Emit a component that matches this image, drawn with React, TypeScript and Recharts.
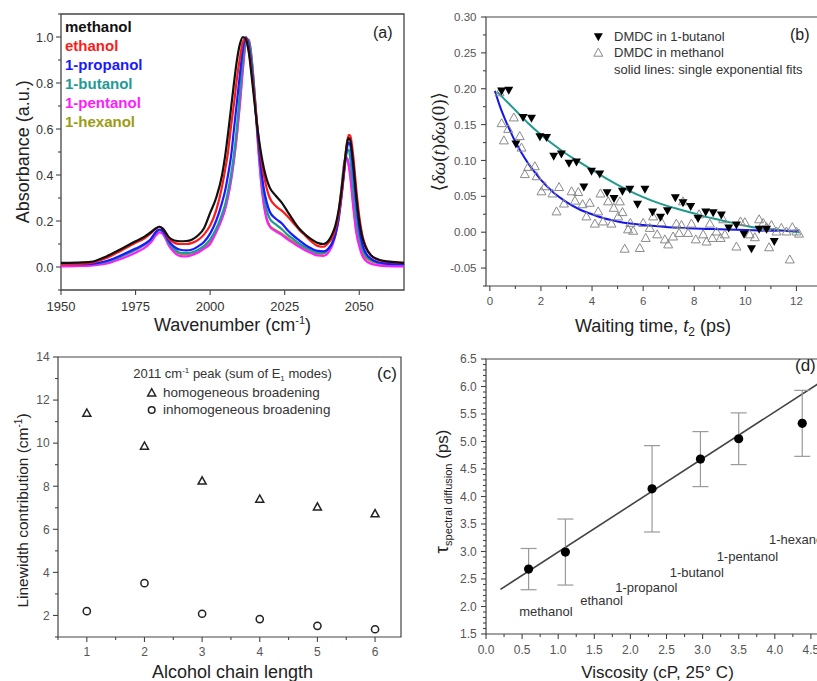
import {
  LineChart,
  Line,
  ComposedChart,
  ScatterChart,
  Scatter,
  XAxis,
  YAxis,
  ReferenceArea,
  ReferenceDot,
  ErrorBar,
} from 'recharts';

const FONT = '"Liberation Sans", Arial, sans-serif';
const SERIF = '"Liberation Serif", "DejaVu Serif", serif';
const AXIS = '#444';
const INK = '#222';

// ---------- (a) FTIR spectra, normalised ----------
const WAVENUMBER = [
  1950, 1955, 1960, 1965, 1970, 1975, 1978, 1980, 1982, 1983, 1984, 1985, 1986, 1988, 1990, 1992, 1994,
  1996, 1998, 2000, 2002, 2004, 2005, 2006, 2007, 2008, 2009, 2010, 2011, 2012, 2013, 2014, 2015, 2016,
  2017, 2018, 2019, 2020, 2022, 2024, 2026, 2028, 2030, 2032, 2034, 2036, 2038, 2040, 2041, 2042, 2043,
  2044, 2045, 2045.5, 2046, 2046.5, 2047, 2048, 2049, 2050, 2051, 2052, 2054, 2056, 2058, 2060, 2065,
];
const ABS_METHANOL = [
  0.018, 0.019, 0.022, 0.045, 0.077, 0.112, 0.132, 0.15, 0.17, 0.175, 0.168, 0.152, 0.132, 0.115, 0.112, 0.113, 0.12,
  0.138, 0.17, 0.235, 0.3, 0.4, 0.48, 0.58, 0.69, 0.8, 0.9, 0.97, 1.0, 0.99, 0.93, 0.82, 0.7, 0.59,
  0.5, 0.43, 0.38, 0.345, 0.31, 0.28, 0.24, 0.2, 0.165, 0.14, 0.12, 0.105, 0.1, 0.12, 0.145, 0.18, 0.24,
  0.33, 0.44, 0.5, 0.545, 0.56, 0.55, 0.45, 0.31, 0.2, 0.13, 0.09, 0.05, 0.035, 0.027, 0.023, 0.018,
];
const ABS_ETHANOL = [
  0.012, 0.013, 0.018, 0.038, 0.07, 0.105, 0.125, 0.145, 0.168, 0.175, 0.168, 0.15, 0.125, 0.105, 0.1, 0.1, 0.105,
  0.118, 0.142, 0.18, 0.245, 0.35, 0.42, 0.5, 0.61, 0.71, 0.82, 0.91, 0.98, 0.995, 0.94, 0.84, 0.72, 0.59,
  0.48, 0.4, 0.34, 0.3, 0.265, 0.245, 0.22, 0.19, 0.16, 0.135, 0.11, 0.092, 0.088, 0.11, 0.13, 0.165, 0.22,
  0.31, 0.43, 0.5, 0.55, 0.575, 0.57, 0.48, 0.34, 0.22, 0.14, 0.095, 0.05, 0.033, 0.025, 0.022, 0.018,
];
const ABS_PROPANOL = [
  0.012, 0.012, 0.014, 0.025, 0.05, 0.08, 0.1, 0.12, 0.155, 0.163, 0.158, 0.14, 0.115, 0.088, 0.075, 0.072, 0.076,
  0.09, 0.11, 0.145, 0.2, 0.28, 0.33, 0.4, 0.48, 0.6, 0.72, 0.84, 0.95, 1.0, 0.96, 0.86, 0.72, 0.57,
  0.44, 0.34, 0.28, 0.24, 0.21, 0.19, 0.16, 0.135, 0.115, 0.095, 0.08, 0.07, 0.068, 0.085, 0.105, 0.14, 0.2,
  0.3, 0.42, 0.48, 0.525, 0.54, 0.53, 0.42, 0.28, 0.17, 0.1, 0.065, 0.035, 0.022, 0.017, 0.014, 0.012,
];
const ABS_BUTANOL = [
  0.012, 0.012, 0.013, 0.022, 0.045, 0.075, 0.097, 0.117, 0.152, 0.16, 0.155, 0.135, 0.108, 0.078, 0.062, 0.06, 0.064,
  0.075, 0.092, 0.12, 0.165, 0.23, 0.27, 0.33, 0.4, 0.49, 0.61, 0.76, 0.9, 0.99, 0.98, 0.89, 0.74, 0.57,
  0.42, 0.31, 0.245, 0.21, 0.185, 0.165, 0.14, 0.12, 0.1, 0.085, 0.072, 0.062, 0.062, 0.085, 0.105, 0.145, 0.21,
  0.31, 0.43, 0.48, 0.505, 0.51, 0.47, 0.34, 0.21, 0.13, 0.08, 0.052, 0.03, 0.02, 0.016, 0.014, 0.012,
];
const ABS_PENTANOL = [
  0.003, 0.004, 0.006, 0.014, 0.035, 0.062, 0.083, 0.105, 0.14, 0.15, 0.145, 0.125, 0.097, 0.063, 0.047, 0.046, 0.052,
  0.063, 0.08, 0.1, 0.15, 0.21, 0.25, 0.305, 0.375, 0.465, 0.575, 0.71, 0.86, 0.975, 0.985, 0.89, 0.73, 0.54,
  0.38, 0.27, 0.205, 0.175, 0.155, 0.14, 0.12, 0.103, 0.087, 0.072, 0.06, 0.05, 0.048, 0.07, 0.095, 0.14, 0.22,
  0.33, 0.45, 0.475, 0.47, 0.44, 0.39, 0.26, 0.15, 0.09, 0.05, 0.03, 0.014, 0.008, 0.005, 0.004, 0.003,
];
const ABS_HEXANOL = [
  0.012, 0.012, 0.013, 0.022, 0.045, 0.075, 0.097, 0.117, 0.152, 0.16, 0.155, 0.133, 0.105, 0.072, 0.057, 0.055, 0.06,
  0.07, 0.087, 0.11, 0.155, 0.215, 0.255, 0.31, 0.38, 0.47, 0.58, 0.72, 0.87, 0.98, 0.99, 0.9, 0.74, 0.55,
  0.39, 0.28, 0.21, 0.18, 0.16, 0.145, 0.125, 0.11, 0.092, 0.078, 0.066, 0.056, 0.058, 0.085, 0.11, 0.155, 0.23,
  0.34, 0.46, 0.48, 0.47, 0.44, 0.4, 0.27, 0.16, 0.1, 0.062, 0.042, 0.025, 0.017, 0.013, 0.012, 0.01,
];
const SOLVENTS = ['methanol', 'ethanol', '1-propanol', '1-butanol', '1-pentanol', '1-hexanol'];
const SOLVENT_COLORS = ['#111111', '#ff1a1a', '#1a1aff', '#1f9a96', '#ff1aff', '#9c9c14'];
const A_X_TICKS = [1950, 1975, 2000, 2025, 2050];

// ---------- (b) frequency-frequency correlation ----------
const BUTANOL_T = [
  0.46, 0.74, 1.02, 1.3, 1.63, 1.96, 2.22, 2.5, 2.8, 3.1, 3.39, 3.68, 3.98, 4.3, 4.59, 4.86, 5.19, 5.48, 5.78,
  6.07, 6.37, 6.68, 6.95, 7.26, 7.56, 7.86, 8.15, 8.45, 8.74, 9.06, 9.35, 9.65, 9.95, 10.24, 10.54, 10.83, 11.13,
];
const BUTANOL_C = [
  0.197, 0.198, 0.123, 0.16, 0.159, 0.133, 0.132, 0.106, 0.109, 0.096, 0.098, 0.063, 0.085, 0.081, 0.055, 0.047,
  0.057, 0.06, 0.039, 0.06, 0.028, 0.021, 0.03, 0.048, 0.041, 0.036, 0.019, 0.028, 0.027, 0.024, 0.006, 0.01,
  -0.003, -0.023, 0.004, 0.004, -0.013,
];
const METHANOL_T = [
  0.38, 0.46, 0.55, 0.72, 0.94, 1.17, 1.24, 1.37, 1.5, 1.76, 1.83, 2.02, 2.15, 2.45, 2.61, 2.71, 2.9, 3.2, 3.33,
  3.46, 3.63, 3.78, 3.91, 4.11, 4.24, 4.33, 4.43, 4.63, 4.76, 4.85, 5.02, 5.09, 5.19, 5.28, 5.41, 5.5, 5.61,
  5.87, 6.0, 6.1, 6.26, 6.39, 6.55, 6.72, 6.85, 6.98, 7.17, 7.3, 7.41, 7.5, 7.56, 7.76, 7.89, 8.06, 8.19, 8.35,
  8.48, 8.61, 8.71, 8.87, 9.03, 9.13, 9.2, 9.65, 9.81, 9.98, 10.17, 10.37, 10.54, 10.7, 10.83, 10.93, 11.02,
  11.22, 11.41, 11.61, 11.74, 11.84, 12.0, 12.1,
];
const METHANOL_C = [
  0.195, 0.152, 0.128, 0.144, 0.16, 0.134, 0.118, 0.081, 0.091, 0.092, 0.078, 0.057, 0.064, 0.054, 0.029, 0.063,
  0.04, 0.057, 0.044, 0.056, 0.039, 0.022, 0.041, 0.012, 0.029, 0.054, 0.015, 0.043, 0.012, 0.034, 0.022, 0.043,
  0.028, -0.023, 0.004, 0.013, 0.002, -0.022, 0.013, -0.008, 0.006, 0.022, -0.003, 0.014, -0.01, -0.017, -0.006,
  0.012, -0.001, 0.01, 0.043, -0.001, 0.012, -0.01, 0.025, -0.003, -0.013, 0.012, -0.008, 0.001, -0.008, 0.018,
  -0.003, -0.02, 0.015, 0.014, -0.003, -0.007, 0.018, 0.013, 0.007, -0.021, 0.01, 0.001, 0.006, 0.001, -0.038,
  0.007, 0.001, -0.002,
];
const FIT_BUTANOL_T = [0.3, 0.5, 1, 1.5, 2, 2.5, 3, 3.5, 4, 4.5, 5, 5.5, 6, 6.5, 7, 7.5, 8, 8.5, 9, 9.5, 10, 10.5, 11, 11.5, 12.1];
const FIT_BUTANOL_C = [
  0.195, 0.188, 0.17, 0.152, 0.136, 0.122, 0.109, 0.098, 0.087, 0.076, 0.066, 0.057, 0.049, 0.042, 0.036, 0.031,
  0.026, 0.021, 0.017, 0.013, 0.009, 0.006, 0.004, 0.002, 0.0,
];
const FIT_METHANOL_T = [0.2, 0.4, 0.6, 0.8, 1, 1.25, 1.5, 1.75, 2, 2.5, 3, 3.5, 4, 4.5, 5, 5.5, 6, 7, 8, 9, 10, 11, 12.1];
const FIT_METHANOL_C = [
  0.197, 0.175, 0.157, 0.141, 0.126, 0.11, 0.096, 0.084, 0.073, 0.055, 0.042, 0.032, 0.025, 0.019, 0.015, 0.012,
  0.01, 0.007, 0.005, 0.004, 0.003, 0.002, 0.002,
];

// ---------- (c) linewidth contributions ----------
const CHAIN_LENGTH = [1, 2, 3, 4, 5, 6];
const HOMOGENEOUS = [11.4, 9.87, 8.25, 7.41, 7.04, 6.73];
const INHOMOGENEOUS = [2.2, 3.5, 2.08, 1.83, 1.52, 1.36];

// ---------- (d) spectral diffusion vs viscosity ----------
const VISCOSITY = [0.59, 1.1, 2.3, 2.97, 3.5, 4.38];
const TAU_SD = [2.68, 2.99, 4.14, 4.68, 5.05, 5.33];
const TAU_ERR = [0.375, 0.6, 0.785, 0.5, 0.47, 0.6];
const FIT_VISC = [0.2, 4.6];
const FIT_TAU = [2.31, 6.05];

const zipXY = (xs: number[], ys: number[]) => xs.map((x, i) => ({ x, y: ys[i] }));

const spectraRows = WAVENUMBER.map((w, i) => {
  const row: Record<string, number> = { w };
  [ABS_METHANOL, ABS_ETHANOL, ABS_PROPANOL, ABS_BUTANOL, ABS_PENTANOL, ABS_HEXANOL].forEach((s, k) => {
    row[SOLVENTS[k]] = s[i];
  });
  return row;
});

const range = (from: number, to: number, step: number) => {
  const n = Math.round((to - from) / step);
  return Array.from({ length: n + 1 }, (_, i) => +(from + i * step).toFixed(4));
};
const onStep = (v: number, step: number) => Math.abs(v / step - Math.round(v / step)) < 1e-6;

type TickOpts = {
  side: 'bottom' | 'left';
  step: number;
  fmt: (v: number) => string;
  size: number;
  gap: number;
  color: string;
};

// draws major/minor tick marks outward and labels the major ones
const tickRenderer = ({ side, step, fmt, size, gap, color }: TickOpts) => (p: any) => {
  const v = p.payload.value;
  const major = onStep(v, step);
  const len = major ? 5 : 3;
  if (side === 'bottom') {
    return (
      <g>
        <line x1={p.x} x2={p.x} y1={p.y} y2={p.y + len} stroke={AXIS} strokeWidth={1.1} />
        {major && (
          <text x={p.x} y={p.y + gap} textAnchor="middle" fontSize={size} fill={color} fontFamily={FONT}>
            {fmt(v)}
          </text>
        )}
      </g>
    );
  }
  return (
    <g>
      <line x1={p.x} x2={p.x - len} y1={p.y} y2={p.y} stroke={AXIS} strokeWidth={1.1} />
      {major && (
        <text x={p.x - gap} y={p.y} dy="0.36em" textAnchor="end" fontSize={size} fill={color} fontFamily={FONT}>
          {fmt(v)}
        </text>
      )}
    </g>
  );
};

const axisBase = {
  type: 'number' as const,
  axisLine: false,
  tickLine: false,
  tickSize: 0,
  tickMargin: 0,
  interval: 0 as const,
  allowDataOverflow: true,
};

const DownTriangle = (p: any) => (
  <polygon
    points={`${p.cx - 4.5},${p.cy - 3.5} ${p.cx + 4.5},${p.cy - 3.5} ${p.cx},${p.cy + 4.5}`}
    fill="#000"
  />
);
const OpenTriangle = (p: any) => (
  <polygon
    points={`${p.cx - 4.5},${p.cy + 3.5} ${p.cx + 4.5},${p.cy + 3.5} ${p.cx},${p.cy - 4.5}`}
    fill="none"
    stroke="#8a8a8a"
    strokeWidth={1}
  />
);
const HollowTriangle = (p: any) => (
  <polygon
    points={`${p.cx - 4},${p.cy + 3.2} ${p.cx + 4},${p.cy + 3.2} ${p.cx},${p.cy - 4}`}
    fill="none"
    stroke={INK}
    strokeWidth={1.5}
  />
);
const HollowCircle = (p: any) => <circle cx={p.cx} cy={p.cy} r={3.6} fill="none" stroke={INK} strokeWidth={1.5} />;
const SolidDot = (p: any) => <circle cx={p.cx} cy={p.cy} r={4.6} fill="#000" />;

function SpectraPanel() {
  const drawOrder = [5, 4, 3, 2, 1, 0];
  return (
    <LineChart width={410} height={340} data={spectraRows} margin={{ top: 14, right: 6, bottom: 20, left: 0 }}>
      <XAxis
        {...axisBase}
        dataKey="w"
        domain={[1950, 2065]}
        ticks={A_X_TICKS}
        height={30}
        tick={tickRenderer({ side: 'bottom', step: 25, fmt: (v) => String(v), size: 13, gap: 20.5, color: '#333' })}
      />
      <YAxis
        {...axisBase}
        domain={[-0.1, 1.1]}
        ticks={range(-0.1, 1.1, 0.1)}
        width={61}
        tick={tickRenderer({ side: 'left', step: 0.2, fmt: (v) => v.toFixed(1), size: 12.5, gap: 7.5, color: '#333' })}
      />
      <ReferenceArea x1={1950} x2={2065} y1={-0.1} y2={1.1} fill="none" stroke={AXIS} strokeWidth={1.3} ifOverflow="visible" />
      {drawOrder.map((k) => (
        <Line
          key={SOLVENTS[k]}
          dataKey={SOLVENTS[k]}
          type="monotone"
          stroke={SOLVENT_COLORS[k]}
          strokeWidth={2.2}
          dot={false}
          isAnimationActive={false}
        />
      ))}
    </LineChart>
  );
}

function CorrelationPanel() {
  return (
    <ComposedChart width={417} height={340} margin={{ top: 17, right: 5, bottom: 24, left: 0 }}>
      <XAxis
        {...axisBase}
        dataKey="x"
        domain={[-0.15, 13]}
        ticks={range(0, 13, 1)}
        height={30}
        tick={tickRenderer({ side: 'bottom', step: 2, fmt: (v) => String(v), size: 11.5, gap: 18.5, color: '#555' })}
      />
      <YAxis
        {...axisBase}
        dataKey="y"
        domain={[-0.075, 0.3]}
        ticks={range(-0.075, 0.3, 0.025)}
        width={76}
        tick={tickRenderer({ side: 'left', step: 0.05, fmt: (v) => v.toFixed(2), size: 11.5, gap: 9.5, color: '#555' })}
      />
      <ReferenceArea x1={-0.15} x2={13} y1={-0.075} y2={0.3} fill="none" stroke={AXIS} strokeWidth={1.2} ifOverflow="visible" />
      <Scatter data={zipXY(METHANOL_T, METHANOL_C)} shape={OpenTriangle} isAnimationActive={false} />
      <Scatter data={zipXY(BUTANOL_T, BUTANOL_C)} shape={DownTriangle} isAnimationActive={false} />
      <Line
        data={zipXY(FIT_BUTANOL_T, FIT_BUTANOL_C)}
        dataKey="y"
        type="monotone"
        stroke="#1f9a8c"
        strokeWidth={2}
        dot={false}
        isAnimationActive={false}
      />
      <Line
        data={zipXY(FIT_METHANOL_T, FIT_METHANOL_C)}
        dataKey="y"
        type="monotone"
        stroke="#1515ee"
        strokeWidth={2}
        dot={false}
        isAnimationActive={false}
      />
    </ComposedChart>
  );
}

function LinewidthPanel() {
  return (
    <ScatterChart width={410} height={341} margin={{ top: 17, right: 9, bottom: 14, left: 0 }}>
      <XAxis
        {...axisBase}
        dataKey="x"
        domain={[0.5, 6.45]}
        ticks={range(0.5, 6, 0.5)}
        height={30}
        tick={tickRenderer({ side: 'bottom', step: 1, fmt: (v) => String(v), size: 12, gap: 19.3, color: '#555' })}
      />
      <YAxis
        {...axisBase}
        dataKey="y"
        domain={[1, 14]}
        ticks={range(1, 14, 1)}
        width={58}
        tick={tickRenderer({ side: 'left', step: 2, fmt: (v) => String(v), size: 12, gap: 8.3, color: '#555' })}
      />
      <ReferenceArea x1={0.5} x2={6.45} y1={1} y2={14} fill="none" stroke={AXIS} strokeWidth={1.2} ifOverflow="visible" />
      <Scatter data={zipXY(CHAIN_LENGTH, HOMOGENEOUS)} shape={HollowTriangle} isAnimationActive={false} />
      <Scatter data={zipXY(CHAIN_LENGTH, INHOMOGENEOUS)} shape={HollowCircle} isAnimationActive={false} />
    </ScatterChart>
  );
}

function ViscosityPanel() {
  const points = VISCOSITY.map((x, i) => ({ x, y: TAU_SD[i], err: TAU_ERR[i] }));
  const nameAt = (name: string, x: number, y: number, anchor: 'middle' | 'start' = 'middle') => (
    <ReferenceDot
      key={name}
      x={x}
      y={y}
      r={0}
      ifOverflow="visible"
      shape={(p: any) => (
        <text x={p.cx} y={p.cy} dy="0.36em" textAnchor={anchor} fontSize={13} fill="#333" fontFamily={FONT}>
          {name}
        </text>
      )}
    />
  );
  return (
    <ComposedChart width={442} height={341} margin={{ top: 19, right: 5, bottom: 17, left: 0 }}>
      <XAxis
        {...axisBase}
        dataKey="x"
        domain={[0, 5]}
        ticks={range(0, 5, 0.25)}
        height={30}
        tick={tickRenderer({ side: 'bottom', step: 0.5, fmt: (v) => v.toFixed(1), size: 12, gap: 19.6, color: '#555' })}
      />
      <YAxis
        {...axisBase}
        dataKey="y"
        domain={[1.5, 6.5]}
        ticks={range(1.5, 6.5, 0.1)}
        width={76}
        tick={tickRenderer({ side: 'left', step: 0.5, fmt: (v) => v.toFixed(1), size: 12, gap: 9.3, color: '#555' })}
      />
      <ReferenceArea x1={0} x2={5} y1={1.5} y2={6.5} fill="none" stroke={AXIS} strokeWidth={1.2} ifOverflow="visible" />
      <Line
        data={zipXY(FIT_VISC, FIT_TAU)}
        dataKey="y"
        type="linear"
        stroke="#444"
        strokeWidth={1.6}
        dot={false}
        isAnimationActive={false}
      />
      <Scatter data={points} shape={SolidDot} isAnimationActive={false}>
        <ErrorBar dataKey="err" direction="y" width={8} stroke="#9a9a9a" strokeWidth={1.2} isAnimationActive={false} />
      </Scatter>
      {nameAt(SOLVENTS[0], 0.83, 1.92)}
      {nameAt(SOLVENTS[1], 1.6, 2.12)}
      {nameAt(SOLVENTS[2], 2.22, 2.34)}
      {nameAt(SOLVENTS[3], 2.92, 2.62)}
      {nameAt(SOLVENTS[4], 3.62, 2.91)}
      {nameAt(SOLVENTS[5], 3.92, 3.23, 'start')}
    </ComposedChart>
  );
}

// titles, legends and panel letters laid over the four charts
function Annotations() {
  return (
    <svg
      width={817}
      height={681}
      style={{ position: 'absolute', left: 0, top: 0, pointerEvents: 'none' }}
      fontFamily={FONT}
    >
      {/* (a) */}
      {SOLVENTS.map((s, i) => (
        <text key={s} x={65} y={31.7 + i * 19.1} fontSize={15} fontWeight="bold" fill={SOLVENT_COLORS[i]}>
          {s}
        </text>
      ))}
      <text x={373} y={37.5} fontSize={16} fill={INK}>(a)</text>
      <text transform="translate(28.5,151.7) rotate(-90)" textAnchor="middle" fontSize={18} fill={INK}>
        Absorbance (a.u.)
      </text>
      <text x={232.5} y={330.5} textAnchor="middle" fontSize={18} fill={INK}>
        Wavenumber (cm<tspan dy={-7} fontSize={11}>-1</tspan>
        <tspan dy={7}>)</tspan>
      </text>

      {/* (b) */}
      <polygon points="593.8,33.2 602.8,33.2 598.3,41.2" fill="#000" />
      <text x={614} y={40.5} fontSize={13} fill="#333">DMDC in 1-butanol</text>
      <polygon points="593.8,56.2 602.8,56.2 598.3,48.2" fill="none" stroke="#8a8a8a" strokeWidth={1} />
      <text x={614} y={57} fontSize={13} fill="#333">DMDC in methanol</text>
      <text x={614} y={73.5} fontSize={13} fill="#333">solid lines: single exponential fits</text>
      <text x={790} y={40} fontSize={16} fill={INK}>(b)</text>
      <text transform="translate(445,141.7) rotate(-90)" textAnchor="middle" fontSize={19} fill={INK} fontFamily={SERIF}>
        ⟨<tspan fontStyle="italic">δω</tspan>(<tspan fontStyle="italic">t</tspan>)<tspan fontStyle="italic">δω</tspan>(0)⟩
      </text>
      <text x={653} y={331.5} textAnchor="middle" fontSize={18} fill={INK}>
        Waiting time, <tspan fontStyle="italic">t</tspan>
        <tspan dy={4} fontSize={12}>2</tspan>
        <tspan dy={-4}> (ps)</tspan>
      </text>

      {/* (c) */}
      <text x={232.5} y={377.5} textAnchor="middle" fontSize={13} fill="#333">
        2011 cm<tspan dy={-5} fontSize={8}>-1</tspan>
        <tspan dy={5}> peak (sum of E</tspan>
        <tspan dy={3} fontSize={8}>1</tspan>
        <tspan dy={-3}> modes)</tspan>
      </text>
      <polygon points="147.7,395.9 155.7,395.9 151.7,388.7" fill="none" stroke={INK} strokeWidth={1.5} />
      <text x={163} y={397} fontSize={13.5} fill="#333">homogeneous broadening</text>
      <circle cx={151.7} cy={410} r={3.3} fill="none" stroke={INK} strokeWidth={1.5} />
      <text x={163} y={414.3} fontSize={13.5} fill="#333">inhomogeneous broadening</text>
      <text x={377} y={379} fontSize={17} fill={INK}>(c)</text>
      <text transform="translate(28,510.5) rotate(-90)" textAnchor="middle" fontSize={15.5} fill={INK}>
        Linewidth contribution (cm<tspan dy={-6} fontSize={10}>-1</tspan>
        <tspan dy={6}>)</tspan>
      </text>
      <text x={232.5} y={678} textAnchor="middle" fontSize={18} fill={INK}>Alcohol chain length</text>

      {/* (d) */}
      <text x={795} y={371} fontSize={17} fill={INK}>(d)</text>
      <text transform="translate(447.7,491.5) rotate(-90)" textAnchor="middle" fill={INK}>
        <tspan fontSize={19}>τ</tspan>
        <tspan fontSize={11} dy={4}>spectral diffusion</tspan>
        <tspan fontSize={17} dy={-4}> (ps)</tspan>
      </text>
      <text x={657.5} y={678} textAnchor="middle" fontSize={17} fill={INK}>Viscosity (cP, 25° C)</text>
    </svg>
  );
}

export default function App() {
  return (
    <div
      style={{
        position: 'fixed',
        left: 0,
        top: 0,
        width: 817,
        height: 681,
        overflow: 'hidden',
        background: '#fff',
        fontFamily: FONT,
      }}
    >
      <div style={{ position: 'absolute', left: 0, top: 0 }}>
        <SpectraPanel />
      </div>
      <div style={{ position: 'absolute', left: 410, top: 0 }}>
        <CorrelationPanel />
      </div>
      <div style={{ position: 'absolute', left: 0, top: 340 }}>
        <LinewidthPanel />
      </div>
      <div style={{ position: 'absolute', left: 410, top: 340 }}>
        <ViscosityPanel />
      </div>
      <Annotations />
    </div>
  );
}
